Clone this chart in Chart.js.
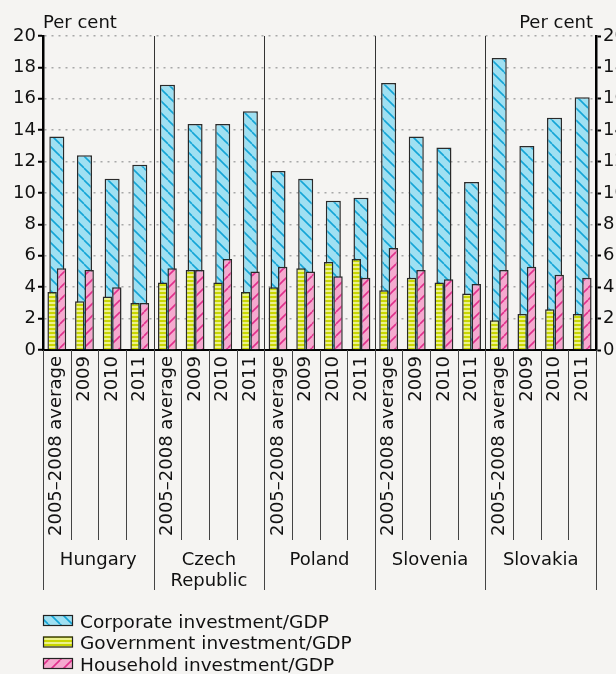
<!DOCTYPE html>
<html lang="en">
<head>
<meta charset="UTF-8" />
<title>Investment by sector</title>
<style>
  body { margin: 0; background: #f5f4f2; }
  #chart { display: block; }
</style>
</head>
<body>
<canvas id="chart" width="616" height="674"></canvas>
<script src="https://cdn.jsdelivr.net/npm/chart.js"></script>
<script>
const countries = [['Hungary'], ['Czech', 'Republic'], ['Poland'], ['Slovenia'], ['Slovakia']];
const periods = ['2005–2008 average', '2009', '2010', '2011'];
const corporate  = [13.6, 12.4, 10.9, 11.8, 16.9, 14.4, 14.4, 15.2, 11.4, 10.9, 9.5, 9.7, 17.0, 13.6, 12.9, 10.7, 18.6, 13.0, 14.8, 16.1];
const government = [3.7, 3.1, 3.4, 3.0, 4.3, 5.1, 4.3, 3.7, 4.0, 5.2, 5.6, 5.8, 3.8, 4.6, 4.3, 3.6, 1.9, 2.3, 2.6, 2.3];
const household  = [5.2, 5.1, 4.0, 3.0, 5.2, 5.1, 5.8, 5.0, 5.3, 5.0, 4.7, 4.6, 6.5, 5.1, 4.5, 4.2, 5.1, 5.3, 4.8, 4.6];
const seriesNames = ['Corporate investment/GDP', 'Government investment/GDP', 'Household investment/GDP'];
const yMin = 0, yMax = 20, yStep = 2;
const axisTitle = 'Per cent';

const labels = countries.flatMap(() => periods);
const FONT = '"DejaVu Sans", sans-serif';

const canvas = document.getElementById('chart');
const ctx = canvas.getContext('2d');

// hatch patterns
function tile(size, bg, draw) {
  const c = document.createElement('canvas');
  c.width = size; c.height = size;
  const g = c.getContext('2d');
  g.fillStyle = bg;
  g.fillRect(0, 0, size, size);
  draw(g, size);
  return ctx.createPattern(c, 'repeat');
}
const corpFill = tile(12, '#9fe0f2', (g, s) => {
  g.strokeStyle = '#14a5d6'; g.lineWidth = 1.6;
  for (const k of [-s, 0, s]) { g.beginPath(); g.moveTo(k, 0); g.lineTo(k + s, s); g.stroke(); }
});
const govFill = tile(4, '#ecf28c', (g, s) => {
  g.fillStyle = '#c9d600';
  g.fillRect(0, 0, s, 2);
});
const hhFill = tile(12, '#f5a9cf', (g, s) => {
  g.strokeStyle = '#e0308c'; g.lineWidth = 1.6;
  for (const k of [-s, 0, s]) { g.beginPath(); g.moveTo(k, s); g.lineTo(k + s, 0); g.stroke(); }
});
const fills = [corpFill, govFill, hhFill];

const extras = {
  id: 'extras',
  afterDraw(chart) {
    const c = chart.ctx;
    const x = chart.scales.x;
    const area = chart.chartArea;
    const n = labels.length;
    const step = x.getPixelForValue(1) - x.getPixelForValue(0);
    const edge = i => x.getPixelForValue(i) - step / 2;
    c.save();
    // separators between years (label area)
    c.strokeStyle = '#444';
    c.lineWidth = 1;
    for (let i = 0; i <= n; i++) {
      const px = Math.round(edge(i)) + 0.5;
      c.beginPath();
      c.moveTo(px, area.bottom);
      c.lineTo(px, i % 4 === 0 ? 590 : 540);
      c.stroke();
    }
    // separators between countries (inside plot)
    c.strokeStyle = '#333';
    for (let i = 4; i < n; i += 4) {
      const px = Math.round(edge(i)) + 0.5;
      c.beginPath();
      c.moveTo(px, area.top);
      c.lineTo(px, area.bottom);
      c.stroke();
    }
    // country names
    c.fillStyle = '#111';
    c.font = '18px ' + FONT;
    c.textAlign = 'center';
    c.textBaseline = 'alphabetic';
    countries.forEach((lines, k) => {
      const cx = (edge(k * 4) + edge(k * 4 + 4)) / 2;
      lines.forEach((t, j) => c.fillText(t, cx, 565 + j * 21));
    });
    // axis titles
    c.textAlign = 'left';
    c.fillText(axisTitle, area.left, 28);
    c.textAlign = 'right';
    c.fillText(axisTitle, area.right - 3, 28);
    // legend
    c.font = '18.5px ' + FONT;
    c.textAlign = 'left';
    seriesNames.forEach((name, i) => {
      const y = 615 + i * 21.5;
      c.fillStyle = fills[i];
      c.fillRect(43, y, 30, 11);
      c.strokeStyle = '#222';
      c.lineWidth = 1.2;
      c.strokeRect(43.5, y + 0.5, 29, 10);
      c.fillStyle = '#111';
      c.fillText(name, 80, y + 12.5);
    });
    c.restore();
  }
};

new Chart(ctx, {
  type: 'bar',
  data: {
    labels,
    datasets: [
      { label: seriesNames[0], data: corporate, backgroundColor: corpFill, borderColor: '#2a2a2a', borderWidth: 1.5,
        grouped: false, barPercentage: 0.68, order: 1 },
      { label: seriesNames[1], data: government, backgroundColor: govFill, borderColor: '#2a2a2a', borderWidth: 1.5,
        categoryPercentage: 0.68, barPercentage: 1, order: 0 },
      { label: seriesNames[2], data: household, backgroundColor: hhFill, borderColor: '#2a2a2a', borderWidth: 1.5,
        categoryPercentage: 0.68, barPercentage: 1, order: 0 }
    ]
  },
  options: {
    responsive: false,
    animation: false,
    devicePixelRatio: 1,
    layout: { padding: { top: 36, left: 0, right: 0, bottom: 0 } },
    plugins: { legend: { display: false }, tooltip: { enabled: false } },
    scales: {
      x: {
        grid: { drawOnChartArea: false, drawTicks: false },
        border: { color: '#000', width: 2 },
        ticks: {
          autoSkip: false, minRotation: 90, maxRotation: 90, padding: 6,
          color: '#111', font: { family: FONT, size: 18 }
        },
        afterFit(s) { s.height = 324; }
      },
      y: {
        position: 'left', min: yMin, max: yMax,
        grid: { color: '#a8a8a8', lineWidth: 1.5, tickColor: '#000', tickLength: 5, tickWidth: 2 },
        border: { color: '#000', width: 2.5, dash: [2, 5] },
        ticks: { stepSize: yStep, color: '#111', padding: 2, font: { family: FONT, size: 18 } },
        afterFit(s) { s.width = 43; }
      },
      y2: {
        position: 'right', min: yMin, max: yMax,
        grid: { drawOnChartArea: false, tickColor: '#000', tickLength: 5, tickWidth: 2 },
        border: { color: '#000', width: 2.5 },
        ticks: { stepSize: yStep, color: '#111', padding: 2, font: { family: FONT, size: 18 } },
        afterFit(s) { s.width = 20; }
      }
    }
  },
  plugins: [extras]
});
</script>
</body>
</html>
